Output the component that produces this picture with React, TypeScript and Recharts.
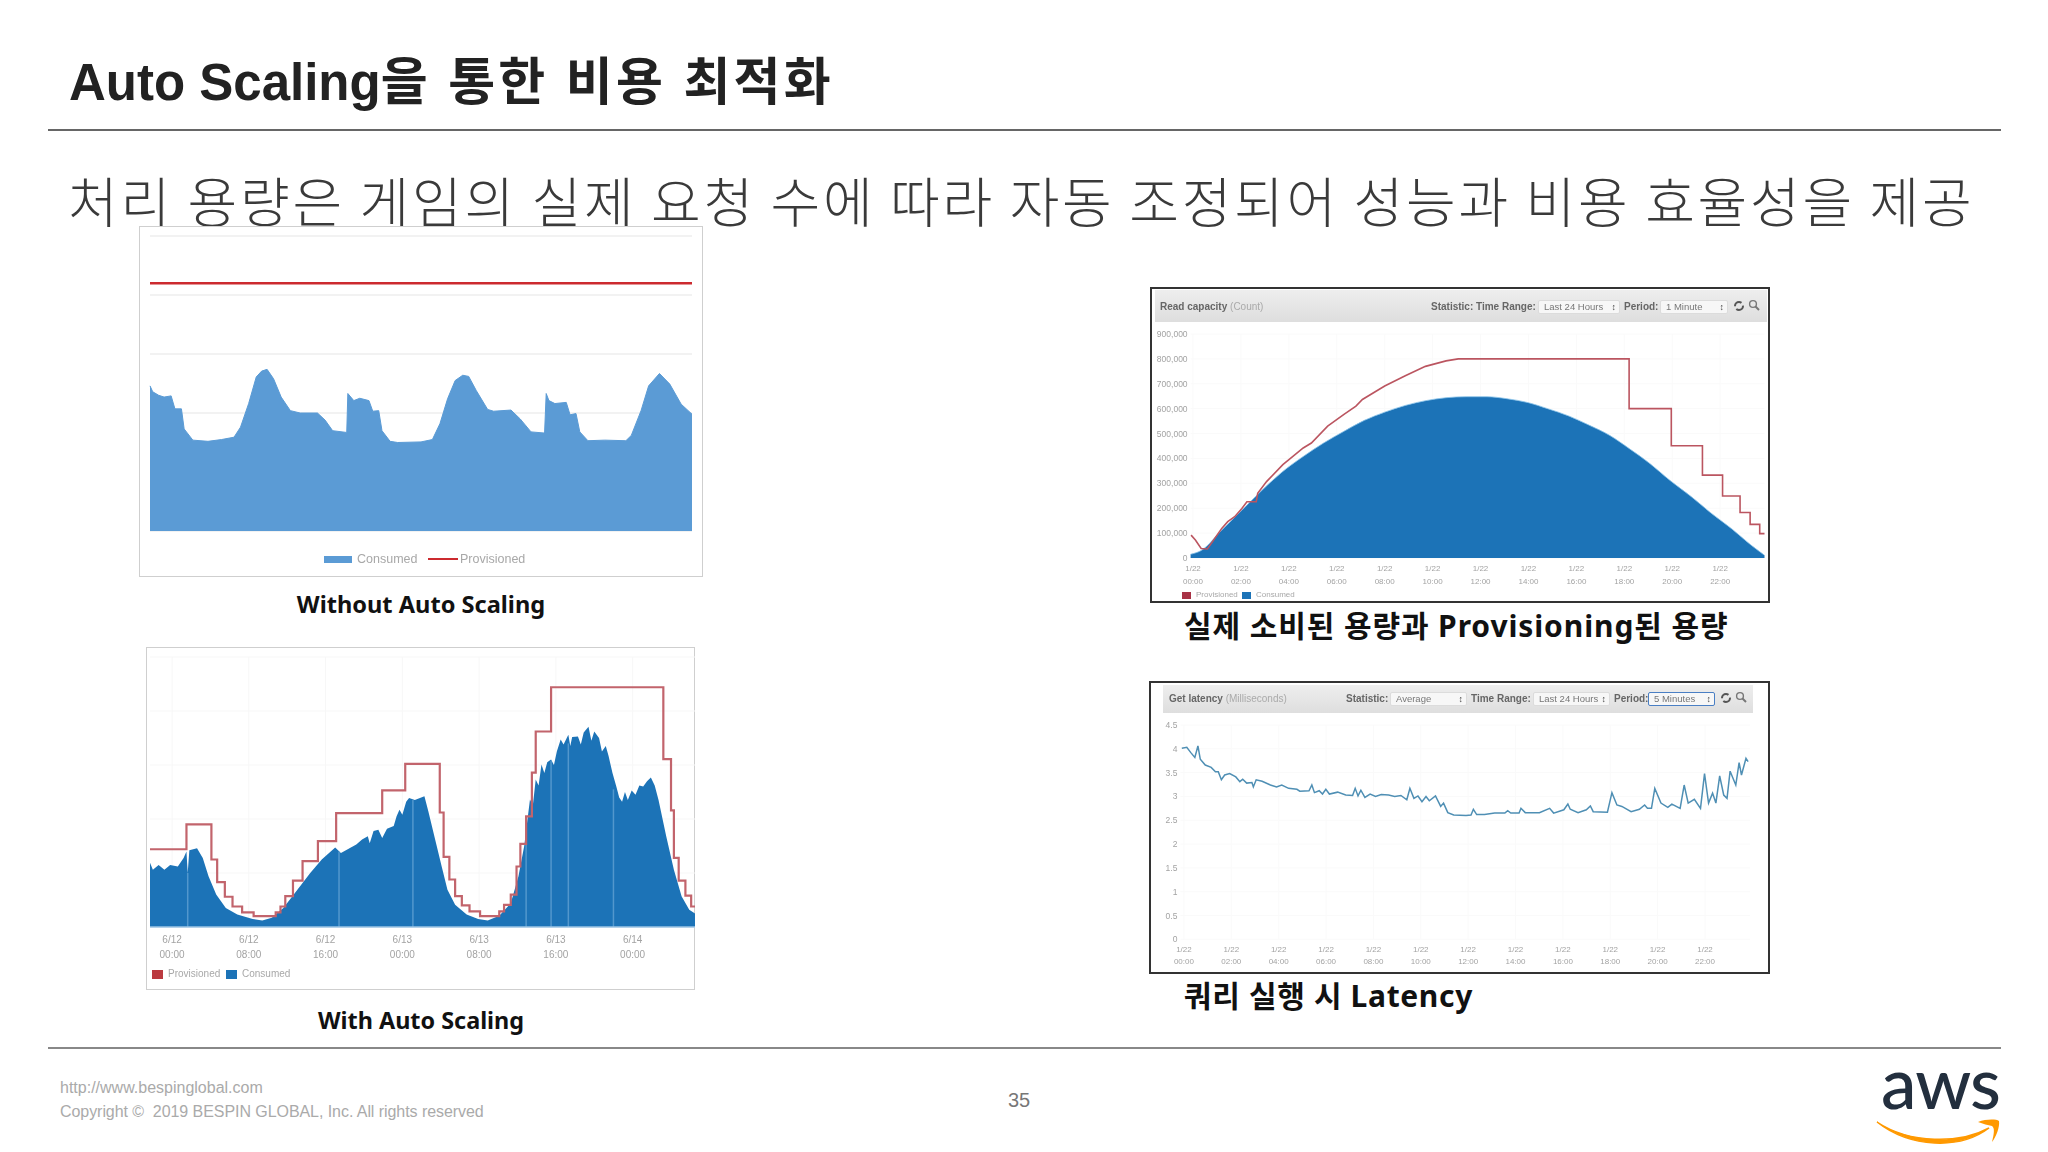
import React from 'react';
import {
  Area,
  CartesianGrid,
  ComposedChart,
  Line,
  ReferenceLine,
  XAxis,
  YAxis,
} from 'recharts';

// top left: without auto scaling (x runs 0-100 across the three days)
const flatTime = [0, 0.5, 1.6, 2.6, 3.9, 4.6, 5.8, 6.3, 7.9, 10.7, 13.2, 15.5, 16.7, 18.2, 19.6, 20.6, 21.6, 22.8, 24.2, 25.9, 27.7, 30.9, 32.3, 33.7, 36.3, 36.5, 37.6, 38.7, 40.4, 41.1, 42.2, 42.8, 44.3, 45.7, 50, 52.1, 53.5, 54.9, 56.3, 57.7, 58.8, 60.2, 62.3, 63.4, 66.6, 68.3, 70.3, 72.8, 73.1, 73.6, 74.7, 76.8, 77.5, 78.6, 79.3, 80.8, 83.9, 87.8, 88.8, 90.6, 92, 94, 95.9, 98, 100];
const flatConsumed = [246, 236, 230, 227, 229, 207, 207, 173, 154, 152, 155, 159, 176, 216, 261, 271, 274, 258, 227, 204, 200, 200, 188, 170, 167, 233, 221, 225, 221, 203, 204, 170, 152, 150, 151, 155, 182, 224, 255, 264, 262, 238, 206, 203, 205, 190, 168, 166, 233, 221, 216, 218, 197, 199, 168, 153, 154, 153, 162, 204, 246, 267, 249, 215, 198];
const flatProvisionedTime = [0, 100];
const flatProvisioned = [420, 420];
const flatTicks = [0, 100, 200, 300, 400, 500];

// bottom left: with auto scaling (x in hours from 6/12 00:00)
const scaledTime = [-2.3, -2, -1.4, -0.8, -0.2, 0.6, 1.2, 1.5, 1.63, 1.8, 2.6, 3.2, 3.8, 4.6, 5.6, 6.8, 8.4, 9.4, 10.4, 11.6, 12.8, 14.4, 15.6, 17, 17.6, 19.2, 19.8, 20.4, 20.6, 21, 21.5, 21.9, 22.4, 23.1, 23.4, 23.7, 24, 24.4, 24.7, 25.3, 26.3, 26.7, 27.5, 28.1, 28.7, 29.5, 30.7, 31.9, 32.9, 34.1, 35.3, 36.1, 36.7, 37.3, 37.6, 37.9, 38.2, 38.5, 38.8, 39.1, 39.5, 39.8, 40.1, 40.5, 40.8, 41.3, 41.5, 41.7, 42.3, 42.6, 42.9, 43.4, 43.7, 44, 44.5, 44.8, 45.2, 45.5, 45.9, 46.3, 46.6, 46.9, 47.2, 47.5, 47.9, 48.3, 48.7, 49.1, 49.5, 49.9, 50.3, 50.7, 51.5, 52.3, 53.1, 53.9, 54.5];
const scaledConsumed = [119, 106, 115, 106, 115, 112, 128, 140, 100, 142, 146, 128, 94, 60, 35, 23, 15, 12, 17, 35, 63, 100, 125, 147, 137, 153, 162, 168, 155, 178, 180, 165, 182, 187, 205, 217, 208, 232, 239, 235, 242, 215, 156, 112, 69, 41, 23, 15, 12, 21, 44, 94, 150, 236, 225, 273, 262, 301, 285, 305, 310, 300, 325, 347, 338, 356, 335, 352, 353, 338, 360, 371, 345, 362, 350, 325, 335, 316, 285, 260, 240, 232, 250, 235, 253, 245, 262, 260, 270, 277, 262, 235, 168, 106, 57, 32, 25];
const scaledProvisionedTime = [-2.3, 1.5, 1.5, 4.1, 4.1, 4.7, 4.7, 5.5, 5.5, 6.3, 6.3, 7.3, 7.3, 8.5, 8.5, 10.8, 10.8, 11.3, 11.3, 11.8, 11.8, 12.6, 12.6, 13.6, 13.6, 15.2, 15.2, 17.1, 17.1, 21.9, 21.9, 24.3, 24.3, 27.9, 27.9, 28.3, 28.3, 28.9, 28.9, 29.5, 29.5, 30.2, 30.2, 31, 31, 32.1, 32.1, 34.1, 34.1, 34.6, 34.6, 35.3, 35.3, 35.9, 35.9, 36.3, 36.3, 36.9, 36.9, 37.5, 37.5, 37.9, 37.9, 39.5, 39.5, 51.2, 51.2, 52, 52, 52.3, 52.3, 52.8, 52.8, 53.5, 53.5, 54.1, 54.1, 54.5];
const scaledProvisioned = [144, 144, 190, 190, 125, 125, 83, 83, 56, 56, 38, 38, 27, 27, 20, 20, 27, 27, 38, 38, 57, 57, 86, 86, 122, 122, 159, 159, 211, 211, 253, 253, 302, 302, 212, 212, 130, 130, 88, 88, 57, 57, 40, 40, 29, 29, 20, 20, 29, 29, 41, 41, 60, 60, 112, 112, 154, 154, 205, 205, 286, 286, 362, 362, 444, 444, 311, 311, 216, 216, 128, 128, 86, 86, 58, 58, 38, 38];
const scaledTicks = [0, 8, 16, 24, 32, 40, 48];
const scaledDates = ['6/12', '6/12', '6/12', '6/13', '6/13', '6/13', '6/14'];
const scaledClock = ['00:00', '08:00', '16:00', '00:00', '08:00', '16:00', '00:00'];
const stripeTime = [1.63, 17.4, 25.1, 36.9, 39.5, 41.3, 46];
const stripeTop = [100, 140, 235, 170, 308, 340, 255];

// top right: read capacity, thousands of units per hour of 1/22
const capacityTime = [-0.1, 0.34, 1.2, 2.04, 2.9, 3.75, 4.6, 5.45, 6.3, 7.15, 8, 8.86, 9.7, 10.56, 11.4, 12.27, 13.1, 14, 14.8, 15.7, 16.5, 17.4, 18.2, 19.1, 19.9, 20.8, 21.6, 22.5, 23.3, 23.85];
const capacityConsumed = [15, 30, 112, 192, 274, 348, 408, 462, 509, 553, 586, 613, 632, 644, 648, 648, 640, 624, 600, 570, 535, 492, 440, 377, 312, 246, 182, 116, 51, 11];
const capacityProvisionedTime = [-0.08, 0.1, 0.34, 0.6, 1.2, 1.45, 1.74, 2.04, 2.25, 2.64, 2.7, 3.07, 3.75, 4.6, 4.94, 5.62, 6.3, 6.8, 7.07, 8, 8.86, 9.7, 10.56, 11.07, 18.2, 18.2, 19.96, 19.96, 21.26, 21.26, 22.1, 22.1, 22.83, 22.83, 23.25, 23.25, 23.65, 23.65, 23.85];
const capacityProvisioned = [92, 72, 38, 36, 119, 146, 166, 199, 226, 226, 260, 307, 375, 442, 462, 530, 577, 610, 637, 691, 732, 770, 792, 800, 800, 600, 600, 451, 451, 333, 333, 249, 249, 183, 183, 135, 135, 98, 98];
const capacityTicks = [0, 100, 200, 300, 400, 500, 600, 700, 800, 900];

// bottom right: get latency in milliseconds
const latencyTime = [-0.09, 0.12, 0.29, 0.46, 0.59, 0.69, 0.9, 1.15, 1.33, 1.45, 1.58, 1.72, 1.93, 2.19, 2.36, 2.48, 2.65, 2.87, 2.93, 3.05, 3.3, 3.65, 3.91, 4.13, 4.42, 4.77, 4.89, 5.28, 5.4, 5.51, 5.71, 5.85, 5.99, 6.14, 6.49, 6.83, 7.12, 7.23, 7.35, 7.47, 7.64, 7.86, 8.09, 8.33, 8.64, 8.9, 9.16, 9.41, 9.54, 9.71, 9.88, 10.05, 10.22, 10.36, 10.62, 10.84, 10.96, 11.14, 11.39, 11.91, 12.12, 12.22, 12.36, 12.69, 13.12, 13.55, 13.67, 13.8, 14.15, 14.23, 14.41, 15.01, 15.44, 15.61, 16.04, 16.21, 16.31, 16.64, 16.99, 17.16, 17.28, 17.88, 18.07, 18.28, 18.49, 18.88, 19.23, 19.45, 19.57, 19.74, 19.88, 20.14, 20.43, 20.6, 20.95, 21.12, 21.29, 21.55, 21.81, 21.98, 22.15, 22.32, 22.46, 22.62, 22.79, 22.93, 23.06, 23.3, 23.44, 23.54, 23.73, 23.82];
const latencyValues = [4.01, 4.03, 3.92, 3.82, 4.06, 3.78, 3.66, 3.61, 3.52, 3.52, 3.35, 3.45, 3.48, 3.41, 3.31, 3.36, 3.28, 3.29, 3.2, 3.35, 3.32, 3.24, 3.2, 3.24, 3.17, 3.15, 3.11, 3.12, 3.24, 3.08, 3.12, 3.05, 3.15, 3.05, 3.09, 3.03, 3.02, 3.17, 3.01, 3.13, 2.98, 3.05, 3, 3.04, 3.03, 3, 3.02, 2.93, 3.17, 2.96, 3.01, 2.89, 3, 2.91, 3.01, 2.79, 2.86, 2.66, 2.61, 2.6, 2.61, 2.73, 2.62, 2.62, 2.65, 2.65, 2.7, 2.65, 2.65, 2.75, 2.66, 2.66, 2.75, 2.65, 2.72, 2.84, 2.73, 2.66, 2.72, 2.8, 2.68, 2.67, 3.08, 2.82, 2.79, 2.68, 2.73, 2.82, 2.75, 2.75, 3.17, 2.86, 2.77, 2.84, 2.75, 3.24, 2.86, 2.94, 2.75, 3.48, 2.86, 3.07, 2.86, 3.43, 3.03, 2.96, 3.53, 3.24, 3.71, 3.45, 3.8, 3.73];
const latencyTicks = [0, 0.5, 1, 1.5, 2, 2.5, 3, 3.5, 4, 4.5];

const hourTicks = [0, 2, 4, 6, 8, 10, 12, 14, 16, 18, 20, 22];
const hourClock = ['00:00', '02:00', '04:00', '06:00', '08:00', '10:00', '12:00', '14:00', '16:00', '18:00', '20:00', '22:00'];

const zip = (xs: number[], ys: number[]) => xs.map((t, i) => ({ t, v: ys[i] }));

const SANS = '"Liberation Sans", "Noto Sans CJK KR", sans-serif';
const CAPTION = '"Noto Sans", "Noto Sans CJK KR", sans-serif';
const BLUE = '#1c73b7';
const ROSE = '#bb5560';

const TwoLineTick = ({ x, y, payload, dates, clock, ticks, size, gap, shift = 7 }: any) => {
  const i = ticks.indexOf(payload.value);
  return (
    <g fill="#a3a3a3" fontFamily={SANS} fontSize={size} textAnchor="middle">
      <text x={x} y={y + shift}>{dates[i]}</text>
      <text x={x} y={y + shift + gap}>{clock[i]}</text>
    </g>
  );
};

const Swatch = ({ x, y, color, label, w = 10, h = 7, size = 8 }: any) => (
  <>
    <div style={{ position: 'absolute', left: x, top: y - h / 2, width: w, height: h, background: color }} />
    <div style={{ position: 'absolute', left: x + w + 5, top: y - 7, lineHeight: '14px', fontSize: size, color: '#a8a8a8', fontFamily: SANS, whiteSpace: 'nowrap' }}>
      {label}
    </div>
  </>
);

const Label = ({ x, y, children, size = 10, color = '#666', bold = true }: any) => (
  <div style={{ position: 'absolute', left: x, top: y - 8, lineHeight: '16px', fontSize: size, color, fontWeight: bold ? 700 : 400, fontFamily: SANS, whiteSpace: 'nowrap' }}>
    {children}
  </div>
);

const SelectBox = ({ x, y, w, h = 14, text, focus = false }: any) => (
  <div style={{ position: 'absolute', left: x, top: y - h / 2, width: w, height: h, boxSizing: 'border-box', background: '#f7f7f7', border: focus ? '1.5px solid #4a7fc4' : '1px solid #dcdcdc', borderRadius: 2, fontFamily: SANS, fontSize: 9.5, lineHeight: `${h - 2}px`, color: '#777', paddingLeft: 5 }}>
    {text}
    <span style={{ position: 'absolute', right: 3, top: 0, fontSize: 9, color: '#444', fontWeight: 700 }}>↕</span>
  </div>
);

const Tools = ({ x, y }: any) => (
  <svg style={{ position: 'absolute', left: x, top: y - 8 }} width={30} height={16} fill="none" stroke="#555">
    <circle cx={6} cy={8} r={4} strokeWidth={2} strokeDasharray="9 3" />
    <circle cx={20} cy={6} r={3.4} strokeWidth={1.4} stroke="#777" />
    <path d="M22.5 8.5 L26 12" strokeWidth={2} stroke="#777" />
  </svg>
);

const panel = (left: number, top: number, width: number, height: number, border: string): React.CSSProperties => ({
  position: 'absolute',
  left,
  top,
  width,
  height,
  boxSizing: 'border-box',
  background: '#fff',
  border,
});

const Text = ({ x, y, size, children, bold = false, color = '#222', font = SANS, center = false, spacing = 0, weight }: any) => (
  <div
    style={{
      position: 'absolute',
      left: x,
      top: y - size,
      lineHeight: `${size * 2}px`,
      fontSize: size,
      fontWeight: weight ?? (bold ? 700 : 400),
      color,
      fontFamily: font,
      letterSpacing: spacing,
      whiteSpace: 'pre',
      transform: center ? 'translateX(-50%)' : undefined,
    }}
  >
    {children}
  </div>
);

const FlatChart = () => (
  <div style={{ ...panel(139, 226, 564, 351, '1px solid #cfcfcf'), filter: 'blur(0.4px)' }}>
    <div style={{ position: 'absolute', left: -1, top: -1 }}>
      <ComposedChart width={564} height={351} margin={{ top: 10, right: 11, bottom: 46, left: 11 }}>
        <CartesianGrid vertical={false} stroke="#eeeeee" strokeWidth={1.5} horizontalValues={flatTicks} />
        <XAxis type="number" dataKey="t" domain={[0, 100]} hide />
        <YAxis type="number" domain={[0, 500]} ticks={flatTicks} hide />
        <Area data={zip(flatTime, flatConsumed)} dataKey="v" type="linear" fill="#5b9bd5" fillOpacity={1} stroke="#5b9bd5" dot={false} isAnimationActive={false} />
        <Line data={zip(flatProvisionedTime, flatProvisioned)} dataKey="v" type="linear" stroke="#cc2a2f" strokeWidth={2.5} dot={false} isAnimationActive={false} />
      </ComposedChart>
    </div>
    <Swatch x={184} y={332} w={28} h={7} size={12.5} color="#5b9bd5" label="Consumed" />
    <div style={{ position: 'absolute', left: 288, top: 331, width: 30, height: 2, background: '#cc2a2f' }} />
    <div style={{ position: 'absolute', left: 320, top: 325, lineHeight: '14px', fontSize: 12.5, color: '#a8a8a8', fontFamily: SANS }}>Provisioned</div>
  </div>
);

const ScaledChart = () => (
  <div style={{ ...panel(146, 647, 549, 343, '1px solid #cfcfcf'), filter: 'blur(0.4px)' }}>
    <div style={{ position: 'absolute', left: -1, top: -1 }}>
      <ComposedChart width={549} height={343} margin={{ top: 10, right: 0, bottom: 23, left: 4 }}>
        <CartesianGrid stroke="#f7f7f7" horizontalValues={flatTicks} verticalValues={scaledTicks} />
        <XAxis
          type="number"
          dataKey="t"
          domain={[-2.3, 54.5]}
          ticks={scaledTicks}
          interval={0}
          height={40}
          tickLine={false}
          axisLine={{ stroke: '#9cc4e4', strokeWidth: 1.5 }}
          tick={<TwoLineTick ticks={scaledTicks} dates={scaledDates} clock={scaledClock} size={10} gap={15} shift={8} />}
        />
        <YAxis type="number" domain={[0, 500]} ticks={flatTicks} hide />
        <Area data={zip(scaledTime, scaledConsumed)} dataKey="v" type="linear" fill={BLUE} fillOpacity={1} stroke="none" dot={false} isAnimationActive={false} />
        {stripeTime.map((x, i) => (
          <ReferenceLine key={x} segment={[{ x, y: 0 }, { x, y: stripeTop[i] }]} stroke="#6aa6d6" strokeOpacity={0.7} strokeWidth={1.5} />
        ))}
        <Line data={zip(scaledProvisionedTime, scaledProvisioned)} dataKey="v" type="linear" stroke="#c2646c" strokeWidth={2.2} dot={false} isAnimationActive={false} />
      </ComposedChart>
    </div>
    <Swatch x={5} y={326} w={11} h={9} size={10} color="#bb3a40" label="Provisioned" />
    <Swatch x={79} y={326} w={11} h={9} size={10} color={BLUE} label="Consumed" />
  </div>
);

const CapacityChart = () => (
  <div style={{ ...panel(1150, 287, 620, 316, '2px solid #333'), filter: 'blur(0.4px)' }}>
    <div style={{ position: 'absolute', left: -2, top: -2 }}>
      <ComposedChart width={619} height={316} margin={{ top: 47, right: 4.5, bottom: 7, left: 4.6 }}>
        <CartesianGrid stroke="#fafafa" horizontalValues={capacityTicks} verticalValues={hourTicks} />
        <XAxis
          type="number"
          dataKey="t"
          domain={[-0.1, 23.85]}
          ticks={hourTicks}
          interval={0}
          height={38}
          tickLine={false}
          axisLine={false}
          tick={<TwoLineTick ticks={hourTicks} dates={hourTicks.map(() => '1/22')} clock={hourClock} size={8} gap={12.5} shift={5} />}
        />
        <YAxis
          type="number"
          width={36}
          domain={[0, 900]}
          ticks={capacityTicks}
          interval={0}
          tickLine={false}
          axisLine={false}
          tickSize={0}
          tickMargin={3}
          tick={{ fontSize: 8.5, fill: '#a3a3a3', fontFamily: SANS }}
          tickFormatter={(v: number) => (v === 0 ? '0' : `${v},000`)}
        />
        <Area data={zip(capacityTime, capacityConsumed)} dataKey="v" type="monotone" fill={BLUE} fillOpacity={1} stroke="#8cc4ea" strokeWidth={0.8} dot={false} isAnimationActive={false} />
        <Line data={zip(capacityProvisionedTime, capacityProvisioned)} dataKey="v" type="linear" stroke={ROSE} strokeWidth={1.6} dot={false} isAnimationActive={false} />
      </ComposedChart>
    </div>
    <div style={{ position: 'absolute', left: 3, top: 1, width: 612, height: 32, background: 'linear-gradient(#eeeeee, #dedede)' }} />
    <Label x={8} y={18}>Read capacity <span style={{ color: '#aaa', fontWeight: 400 }}>(Count)</span></Label>
    <Label x={279} y={18}>Statistic: Time Range:</Label>
    <SelectBox x={386} y={18} w={82} text="Last 24 Hours" />
    <Label x={472} y={18}>Period:</Label>
    <SelectBox x={508} y={18} w={68} text="1 Minute" />
    <Tools x={581} y={17} />
    <Swatch x={30} y={306} w={9} h={7} size={8} color="#a83245" label="Provisioned" />
    <Swatch x={90} y={306} w={9} h={7} size={8} color={BLUE} label="Consumed" />
  </div>
);

const LatencyChart = () => (
  <div style={{ ...panel(1149, 681, 621, 293, '2px solid #333'), filter: 'blur(0.4px)' }}>
    <div style={{ position: 'absolute', left: -2, top: -1 }}>
      <ComposedChart width={620} height={291} margin={{ top: 43, right: 19, bottom: 3.7, left: 3.4 }}>
        <CartesianGrid stroke="#fafafa" horizontalValues={latencyTicks} verticalValues={hourTicks} />
        <XAxis
          type="number"
          dataKey="t"
          domain={[-0.15, 23.9]}
          ticks={hourTicks}
          interval={0}
          height={30}
          tickLine={false}
          axisLine={false}
          tick={<TwoLineTick ticks={hourTicks} dates={hourTicks.map(() => '1/22')} clock={hourClock} size={8} gap={12} shift={5} />}
        />
        <YAxis
          type="number"
          width={28}
          domain={[0, 4.5]}
          ticks={latencyTicks}
          interval={0}
          tickLine={false}
          axisLine={false}
          tickSize={0}
          tickMargin={3}
          tick={{ fontSize: 8.5, fill: '#a3a3a3', fontFamily: SANS }}
        />
        <Line data={zip(latencyTime, latencyValues)} dataKey="v" type="linear" stroke="#4f8fb4" strokeWidth={1.5} dot={false} isAnimationActive={false} />
      </ComposedChart>
    </div>
    <div style={{ position: 'absolute', left: 12, top: 2, width: 590, height: 28, background: 'linear-gradient(#eeeeee, #dedede)' }} />
    <Label x={18} y={16}>Get latency <span style={{ color: '#aaa', fontWeight: 400 }}>(Milliseconds)</span></Label>
    <Label x={195} y={16}>Statistic:</Label>
    <SelectBox x={239} y={16} w={77} text="Average" />
    <Label x={320} y={16}>Time Range:</Label>
    <SelectBox x={382} y={16} w={77} text="Last 24 Hours" />
    <Label x={463} y={16}>Period:</Label>
    <SelectBox x={497} y={16} w={67} text="5 Minutes" focus />
    <Tools x={569} y={15} />
  </div>
);

const AwsLogo = () => (
  <>
    <div style={{ position: 'absolute', left: 1881, top: 1042, lineHeight: '80px', fontSize: 71, fontFamily: 'Lato, sans-serif', color: '#232f3e', fontWeight: 500, letterSpacing: -1 }}>aws</div>
    <svg style={{ position: 'absolute', left: 1870, top: 1115 }} width={140} height={40}>
      <path d="M7 7 C40 29 90 29 119 13 C90 35 40 33 7 7 Z" fill="#f90" stroke="#f90" strokeWidth={1.5} />
      <path d="M108 7 C116 4 126 4 129 6 C130 12 126 22 122 27 C124 19 125 13 122 11 C118 10 113 9 108 7 Z" fill="#f90" />
    </svg>
  </>
);

export default function App() {
  return (
    <div style={{ position: 'absolute', left: 0, top: 0, width: 2048, height: 1152, background: '#fff', overflow: 'hidden' }}>
      <Text x={69} y={83} size={51} bold color="#222">
        Auto Scaling<span style={{ letterSpacing: 3.2 }}>을 통한 비용 최적화</span>
      </Text>
      <div style={{ position: 'absolute', left: 48, top: 129, width: 1953, height: 2, background: '#666' }} />
      <Text x={68} y={200} size={54} weight={300} color="#3a3a3a" font={'"Noto Sans CJK KR", sans-serif'} spacing={2.75}>처리 용량은 게임의 실제 요청 수에 따라 자동 조정되어 성능과 비용 효율성을 제공</Text>

      <FlatChart />
      <ScaledChart />
      <CapacityChart />
      <LatencyChart />

      <Text x={421} y={605} size={23.6} bold color="#111" font={CAPTION} center>Without Auto Scaling</Text>
      <Text x={421} y={1020} size={23.4} bold color="#111" font={CAPTION} center>With Auto Scaling</Text>
      <Text x={1184} y={626} size={30} bold color="#111" font={CAPTION} spacing={0.9}>실제 소비된 용량과 Provisioning된 용량</Text>
      <Text x={1184} y={996} size={30} bold color="#111" font={CAPTION} spacing={0.65}>쿼리 실행 시 Latency</Text>

      <div style={{ position: 'absolute', left: 48, top: 1047, width: 1953, height: 2, background: '#888' }} />
      <Text x={60} y={1088} size={16} color="#aaa">http://www.bespinglobal.com</Text>
      <Text x={60} y={1112} size={16} color="#aaa" spacing={-0.06}>Copyright ©  2019 BESPIN GLOBAL, Inc. All rights reserved</Text>
      <Text x={1008} y={1100} size={20} color="#777">35</Text>
      <AwsLogo />
    </div>
  );
}
